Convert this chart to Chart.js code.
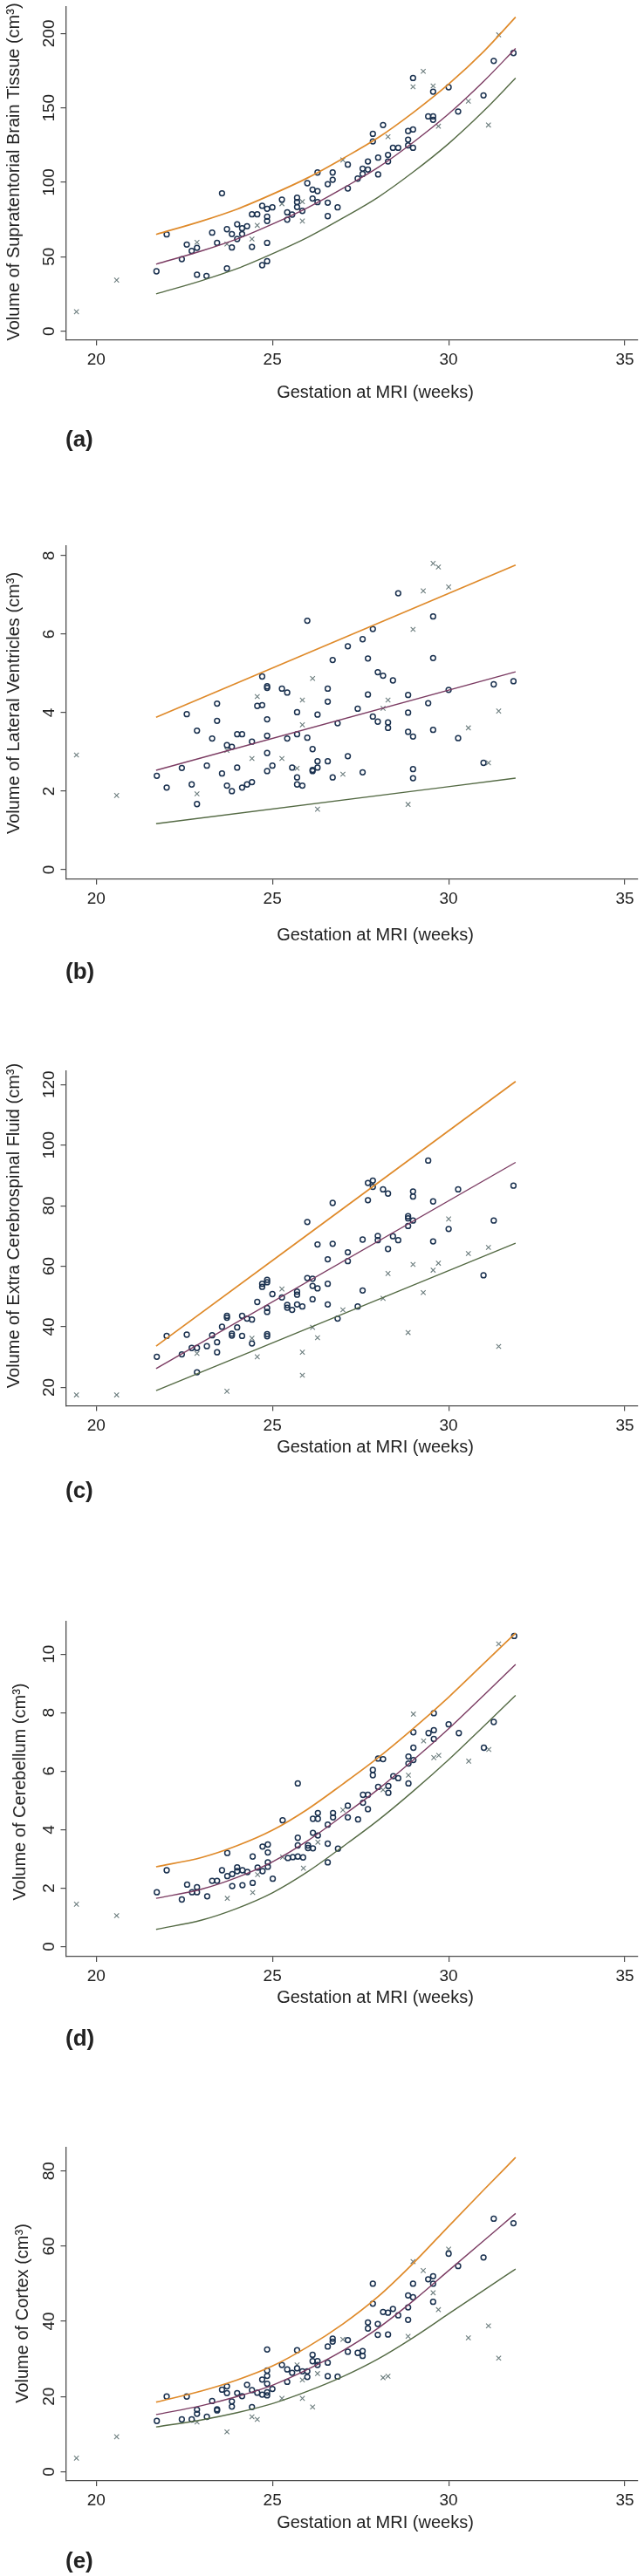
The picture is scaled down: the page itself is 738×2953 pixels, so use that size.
<!DOCTYPE html>
<html lang="en">
<head>
  <meta charset="UTF-8">
  <title>Fetal brain volumes by gestation</title>
  <script src="https://cdn.jsdelivr.net/npm/chart.js"></script>
  <style>
    body { margin: 0; background: #fff; }
    #wrap { position: relative; width: 738px; height: 2953px; }
    #wrap canvas { position: absolute; left: 0; }
  </style>
</head>
<body>
<div id="wrap"></div>

<script>
  // shared
  const xTicks = [20, 25, 30, 35];
  const xTitle = 'Gestation at MRI (weeks)';
  const curveX = [21.7, 23, 24, 25, 26, 27, 28, 29, 30, 31, 31.9];
  const lineX = [21.7, 31.9];

  // (a) supratentorial brain tissue
  const aTitle = 'Volume of Supratentorial Brain Tissue (cm³)';
  const aYTicks = [0, 50, 100, 150, 200];
  const aUpper = [65, 74, 82, 92, 103, 116, 130, 147, 166, 188, 211];
  const aMid = [45, 54, 62, 72, 83, 96, 110, 127, 146, 168, 190];
  const aLower = [25, 34, 42, 52, 63, 76, 90, 107, 126, 148, 170];
  const aCircles = [[21.71,40.2],[22.0,65.0],[22.43,48.4],[22.57,58.2],[22.71,53.9],[22.86,56.0],[22.86,37.9],[23.13,37.1],[23.29,66.2],[23.43,59.3],
    [23.57,92.6],[23.71,68.5],[23.71,42.1],[23.85,65.2],[23.85,56.2],[24.0,71.8],[24.0,61.9],[24.14,69.1],[24.14,65.2],[24.28,70.5],
    [24.42,78.5],[24.42,56.6],[24.57,78.5],[24.71,84.2],[24.71,44.3],[24.85,82.2],[24.85,76.9],[24.85,74.0],[24.85,59.3],[24.85,47.0],
    [25.0,83.2],[25.27,88.4],[25.42,79.8],[25.42,74.9],[25.56,78.3],[25.7,89.6],[25.7,86.7],[25.7,83.4],[25.85,80.8],[25.99,99.4],
    [26.14,95.1],[26.14,89.1],[26.28,106.6],[26.28,94.1],[26.28,86.7],[26.57,98.8],[26.57,86.3],[26.57,77.3],[26.71,106.6],[26.71,101.7],
    [26.85,83.2],[27.14,111.9],[27.14,95.9],[27.42,102.5],[27.56,105.6],[27.56,109.2],[27.71,114.0],[27.71,108.6],[27.85,132.6],[27.85,127.5],
    [28.0,116.6],[28.0,105.3],[28.14,138.5],[28.28,118.4],[28.28,114.0],[28.42,123.2],[28.57,123.2],[28.85,134.5],[28.85,128.7],[28.85,124.8],
    [28.99,135.5],[28.99,123.2],[28.99,170.1],[29.42,144.3],[29.56,144.3],[29.56,142.0],[29.56,160.9],[30.0,163.9],[30.27,147.6],[30.99,158.4],
    [31.28,181.6],[31.84,186.9]];
  const aCrosses = [[19.44,13],[20.58,34.3],[22.86,59.7],[23.71,58.5],[24.42,61.9],[24.57,71.1],[25.27,85.6],[25.85,74],[25.85,87],[27.0,115],
    [28.28,130.6],[28.99,164.2],[29.28,174.6],[29.56,164.8],[29.71,137.7],[30.56,154.5],[31.13,138.5],[31.42,199.1]];

  // (b) lateral ventricles
  const bTitle = 'Volume of Lateral Ventricles (cm³)';
  const bYTicks = [0, 2, 4, 6, 8];
  const bUpper = [3.88, 7.76];
  const bMid = [2.53, 5.04];
  const bLower = [1.17, 2.33];
  const bCircles = [[21.72,2.39],[22.0,2.09],[22.43,2.59],[22.57,3.96],[22.71,2.17],[22.86,3.54],[22.86,1.67],[23.14,2.65],[23.29,3.34],[23.43,4.23],
    [23.43,3.79],[23.57,2.45],[23.71,3.17],[23.71,2.14],[23.85,3.13],[23.85,2.0],[24.0,3.45],[24.0,2.6],[24.14,3.45],[24.14,2.09],
    [24.28,2.17],[24.42,3.26],[24.42,2.23],[24.57,4.17],[24.71,4.19],[24.71,4.92],[24.85,4.67],[24.85,4.63],[24.85,3.83],[24.85,3.41],
    [24.85,2.97],[24.85,2.51],[25.0,2.65],[25.27,4.61],[25.42,4.51],[25.42,3.34],[25.56,2.6],[25.7,4.01],[25.7,3.45],[25.7,2.35],
    [25.7,2.17],[25.85,2.14],[25.99,6.34],[25.99,3.36],[26.14,3.07],[26.14,2.54],[26.14,2.51],[26.28,3.95],[26.28,2.76],[26.28,2.6],
    [26.57,4.61],[26.57,4.28],[26.57,2.76],[26.71,5.34],[26.71,2.35],[26.85,3.73],[27.14,5.69],[27.14,2.89],[27.42,4.1],[27.56,5.87],
    [27.56,2.48],[27.71,5.38],[27.71,4.46],[27.85,6.13],[27.85,3.9],[27.99,5.03],[27.99,3.77],[28.14,4.94],[28.28,3.75],[28.28,3.61],
    [28.42,4.82],[28.57,7.04],[28.85,4.45],[28.85,4.0],[28.85,3.51],[28.99,3.39],[28.99,2.56],[28.99,2.33],[29.42,4.24],[29.56,6.45],
    [29.56,5.39],[29.56,3.56],[30.0,4.58],[30.27,3.35],[30.99,2.72],[31.28,4.72],[31.84,4.8]];
  const bCrosses = [[19.44,2.92],[20.58,1.89],[22.86,1.93],[23.71,3.04],[24.42,2.83],[24.57,4.41],[25.27,2.83],[25.7,2.58],[25.85,4.32],[25.85,3.69],
    [26.14,4.87],[26.28,1.54],[27.0,2.43],[28.14,4.11],[28.28,4.32],[28.85,1.66],[28.99,6.12],[29.28,7.1],[29.56,7.8],[29.71,7.71],
    [30.0,7.2],[30.56,3.61],[31.13,2.72],[31.42,4.04]];

  // (c) extra cerebrospinal fluid
  const cTitle = 'Volume of Extra Cerebrospinal Fluid (cm³)';
  const cYTicks = [20, 40, 60, 80, 100, 120];
  const cUpper = [33.6, 121.0];
  const cMid = [26.2, 94.3];
  const cLower = [18.9, 67.6];
  const cCircles = [[21.72,30.1],[22.0,37.0],[22.43,30.9],[22.57,37.4],[22.71,33.0],[22.86,33.0],[22.86,25.0],[23.14,33.6],[23.29,37.2],[23.43,34.9],
    [23.43,31.6],[23.57,40.0],[23.71,43.6],[23.71,43.0],[23.85,37.7],[23.85,37.1],[24.0,39.8],[24.14,43.6],[24.14,37.0],[24.28,42.7],
    [24.42,42.4],[24.42,34.5],[24.57,48.2],[24.71,53.2],[24.71,54.2],[24.85,55.5],[24.85,54.7],[24.85,46.2],[24.85,44.9],[24.85,37.6],
    [24.85,36.9],[25.0,50.8],[25.27,49.7],[25.42,47.2],[25.42,46.3],[25.56,45.6],[25.7,51.6],[25.7,50.6],[25.7,47.4],[25.85,46.7],
    [25.99,74.6],[25.99,56.1],[26.14,55.9],[26.14,53.5],[26.14,49.1],[26.28,67.2],[26.28,52.7],[26.57,62.3],[26.57,54.2],[26.57,47.4],
    [26.71,80.9],[26.71,67.4],[26.85,42.7],[27.14,64.6],[27.14,61.7],[27.42,46.7],[27.56,68.8],[27.56,52.0],[27.71,87.5],[27.71,81.8],
    [27.85,88.3],[27.85,86.2],[27.99,70.0],[27.99,68.6],[28.14,85.4],[28.28,84.0],[28.28,65.7],[28.42,69.9],[28.57,68.6],[28.85,76.5],
    [28.85,75.8],[28.85,73.3],[28.99,84.7],[28.99,83.0],[28.99,75.1],[29.42,94.9],[29.56,81.4],[29.56,68.2],[30.0,72.3],[30.27,85.4],
    [30.99,57.0],[31.28,75.1],[31.84,86.6]];
  const cCrosses = [[19.44,17.5],[20.58,17.5],[22.86,31.2],[23.71,18.7],[24.42,36.2],[24.57,30.1],[25.27,52.5],[25.85,31.6],[25.85,24.0],[26.14,39.8],
    [26.28,36.4],[27.0,45.6],[28.14,49.4],[28.28,57.6],[28.85,38.1],[28.99,60.6],[29.28,51.3],[29.56,58.7],[29.71,61.0],[30.0,75.6],
    [30.56,64.2],[31.13,66.2],[31.42,33.5]];

  // (d) cerebellum
  const dTitle = 'Volume of Cerebellum (cm³)';
  const dYTicks = [0, 2, 4, 6, 8, 10];
  const dUpper = [2.73, 3.05, 3.45, 3.98, 4.7, 5.56, 6.46, 7.46, 8.53, 9.68, 10.72];
  const dMid = [1.65, 1.97, 2.37, 2.9, 3.62, 4.48, 5.38, 6.38, 7.45, 8.6, 9.65];
  const dLower = [0.59, 0.91, 1.31, 1.84, 2.56, 3.42, 4.32, 5.32, 6.39, 7.54, 8.59];
  const dCircles = [[21.72,1.86],[22.0,2.61],[22.43,1.61],[22.58,2.12],[22.72,1.86],[22.86,1.86],[22.86,2.03],[23.15,1.72],[23.29,2.25],[23.43,2.25],
    [23.57,2.61],[23.72,3.2],[23.72,2.41],[23.86,2.07],[23.86,2.48],[24.0,2.71],[24.0,2.58],[24.15,2.1],[24.15,2.61],[24.29,2.55],
    [24.44,3.08],[24.44,2.18],[24.58,2.7],[24.72,3.42],[24.72,2.58],[24.87,3.49],[24.87,3.22],[24.87,2.88],[24.87,2.73],[25.01,2.32],
    [25.29,4.32],[25.44,3.03],[25.58,3.06],[25.72,3.72],[25.72,3.46],[25.72,3.08],[25.72,5.58],[25.87,3.05],[26.01,3.46],[26.01,3.37],
    [26.15,4.37],[26.15,3.89],[26.15,3.36],[26.29,4.57],[26.29,4.37],[26.29,3.8],[26.57,4.17],[26.57,3.52],[26.57,2.88],[26.72,4.57],
    [26.72,4.42],[26.86,3.35],[27.14,4.82],[27.14,4.42],[27.43,4.35],[27.57,5.19],[27.57,4.92],[27.71,5.19],[27.71,4.7],[27.85,6.04],
    [27.85,5.86],[28.0,6.43],[28.0,5.46],[28.14,6.41],[28.29,5.49],[28.29,5.26],[28.43,5.83],[28.57,5.76],[28.86,6.5],[28.86,6.26],
    [28.86,5.58],[29.0,7.33],[29.0,6.8],[29.0,6.38],[29.43,7.3],[29.58,7.98],[29.58,7.4],[29.58,7.1],[30.0,7.6],[30.29,7.3],
    [31.0,6.8],[31.28,7.68],[31.86,10.62]];
  const dCrosses = [[19.44,1.45],[20.58,1.06],[23.72,1.65],[24.44,1.85],[24.58,2.46],[25.29,3.06],[25.88,2.68],[26.29,3.57],[27.0,4.67],[28.14,5.36],
    [28.86,5.86],[29.0,7.95],[29.29,7.03],[29.58,6.46],[29.72,6.54],[30.57,6.34],[31.14,6.74],[31.42,10.35]];

  // (e) cortex
  const eTitle = 'Volume of Cortex (cm³)';
  const eYTicks = [0, 20, 40, 60, 80];
  const eUpper = [18.5, 21.5, 24.4, 28.1, 33.2, 39.3, 46.6, 55.5, 65.3, 75.0, 83.6];
  const eMid = [15.2, 17.6, 20.0, 23.0, 27.2, 32.2, 38.2, 45.5, 53.5, 61.5, 68.7];
  const eLower = [11.9, 13.8, 15.7, 18.1, 21.4, 25.3, 30.0, 35.7, 42.0, 48.3, 53.9];
  const eCircles = [[21.72,13.5],[22.0,20.0],[22.43,13.9],[22.57,20.0],[22.71,13.9],[22.86,15.4],[22.86,16.5],[23.14,14.6],[23.29,18.8],[23.43,16.6],
    [23.43,16.3],[23.57,21.8],[23.71,22.7],[23.71,20.9],[23.85,18.7],[23.85,17.3],[24.0,20.9],[24.14,20.1],[24.28,23.1],[24.42,21.7],
    [24.42,17.2],[24.57,21.0],[24.71,24.5],[24.71,20.5],[24.85,32.5],[24.85,26.9],[24.85,25.5],[24.85,23.4],[24.85,21.1],[24.85,20.3],
    [25.0,22.0],[25.27,28.4],[25.42,27.2],[25.42,23.9],[25.56,26.3],[25.7,32.3],[25.7,27.5],[25.85,26.7],[25.99,26.7],[25.99,25.2],
    [26.14,31.1],[26.14,29.4],[26.28,29.4],[26.28,28.4],[26.57,33.3],[26.57,29.0],[26.57,25.4],[26.71,35.4],[26.71,34.6],[26.85,25.3],
    [27.14,35.0],[27.14,31.9],[27.42,31.6],[27.56,32.1],[27.56,30.8],[27.71,39.7],[27.71,38.1],[27.85,50.0],[27.85,44.7],[27.99,39.3],
    [27.99,36.4],[28.14,42.5],[28.28,42.3],[28.28,36.5],[28.42,43.3],[28.57,41.6],[28.85,46.9],[28.85,43.7],[28.85,40.4],[28.99,50.0],
    [28.99,46.4],[29.42,51.2],[29.56,52.0],[29.56,50.0],[29.56,45.2],[30.0,58.0],[30.27,54.7],[30.99,57.0],[31.28,67.3],[31.84,66.1]];
  const eCrosses = [[19.44,3.6],[20.58,9.3],[22.86,13.2],[23.71,10.6],[24.42,14.6],[24.57,13.9],[25.27,19.5],[25.7,28.4],[25.85,19.5],[25.85,24.4],
    [26.14,17.2],[26.28,26.1],[27.0,35.2],[28.14,25.0],[28.28,25.4],[28.85,36.0],[28.99,55.9],[29.28,53.5],[29.56,47.6],[29.71,43.1],
    [30.0,59.2],[30.56,35.6],[31.13,38.8],[31.42,30.2]];

  // page layout (pixels), one entry per panel
  const panels = [
    { tag: '(a)', title: aTitle, yTicks: aYTicks, yMin: -6.1, yMax: 218.0, cx: curveX, up: aUpper, mid: aMid, lo: aLower, circ: aCircles, cross: aCrosses,
      top: 0, h: 535, axisTop: 7.7, axisY: 390, xtDy: 60, tagDy: 115, ytX: 16.5, ytY: 197 },
    { tag: '(b)', title: bTitle, yTicks: bYTicks, yMin: -0.247, yMax: 8.256, cx: lineX, up: bUpper, mid: bMid, lo: bLower, circ: bCircles, cross: bCrosses,
      top: 612, h: 528, axisTop: 625.4, axisY: 1008, xtDy: 64.7, tagDy: 107, ytX: 16.5, ytY: 806 },
    { tag: '(c)', title: cTitle, yTicks: cYTicks, yMin: 13.92, yMax: 124.4, cx: lineX, up: cUpper, mid: cMid, lo: cLower, circ: cCircles, cross: cCrosses,
      top: 1215, h: 525, axisTop: 1228, axisY: 1611.5, xtDy: 47.5, tagDy: 98.5, ytX: 16.5, ytY: 1405 },
    { tag: '(d)', title: dTitle, yTicks: dYTicks, yMin: -0.343, yMax: 11.11, cx: curveX, up: dUpper, mid: dMid, lo: dLower, circ: dCircles, cross: dCrosses,
      top: 1845, h: 520, axisTop: 1859, axisY: 2243, xtDy: 47.7, tagDy: 95, ytX: 23.6, ytY: 2054 },
    { tag: '(e)', title: eTitle, yTicks: eYTicks, yMin: -2.46, yMax: 86.2, cx: curveX, up: eUpper, mid: eMid, lo: eLower, circ: eCircles, cross: eCrosses,
      top: 2450, h: 503, axisTop: 2462, axisY: 2844, xtDy: 48.7, tagDy: 92.7, ytX: 26, ytY: 2652 }
  ];

  const FONT = '"Liberation Sans", Arial, Helvetica, sans-serif';
  const AXIS = '#4d4d4d';
  const XSCALE_H = 30;

  // all the text is drawn here, stata style (rotated y labels)
  const stataText = {
    id: 'stataText',
    afterDraw(chart) {
      const p = chart.options.plugins.stataText.panel;
      const ctx = chart.ctx, xs = chart.scales.x, ys = chart.scales.y, a = chart.chartArea;
      ctx.save();
      ctx.fillStyle = '#222';
      ctx.textAlign = 'center';
      ctx.textBaseline = 'middle';
      ctx.font = '19px ' + FONT;
      xTicks.forEach(v => ctx.fillText(String(v), xs.getPixelForValue(v), a.bottom + 23));
      p.yTicks.forEach(v => {
        ctx.save();
        ctx.translate(56, ys.getPixelForValue(v));
        ctx.rotate(-Math.PI / 2);
        ctx.fillText(String(v), 0, 1);
        ctx.restore();
      });
      ctx.font = '20px ' + FONT;
      ctx.fillText(xTitle, 430, a.bottom + p.xtDy);
      ctx.save();
      ctx.translate(p.ytX, p.ytY - p.top);
      ctx.rotate(-Math.PI / 2);
      ctx.fillText(p.title, 0, 0);
      ctx.restore();
      ctx.textAlign = 'left';
      ctx.font = 'bold 26px ' + FONT;
      ctx.fillText(p.tag, 75, a.bottom + p.tagDy);
      ctx.restore();
    }
  };

  function curve(xs, ys, color, w) {
    return {
      data: xs.map((x, i) => ({ x: x, y: ys[i] })),
      showLine: true, pointRadius: 0, borderColor: color, borderWidth: w,
      cubicInterpolationMode: 'monotone', tension: 0.4, fill: false
    };
  }

  const wrap = document.getElementById('wrap');
  panels.forEach(p => {
    const cv = document.createElement('canvas');
    cv.width = 738; cv.height = p.h;
    cv.style.top = p.top + 'px';
    cv.style.width = '738px'; cv.style.height = p.h + 'px';
    wrap.appendChild(cv);

    const padBottom = p.h - XSCALE_H - (p.axisY - p.top);

    new Chart(cv.getContext('2d'), {
      type: 'scatter',
      data: {
        datasets: [
          curve(p.cx, p.up, '#df8a2a', 1.7),
          curve(p.cx, p.mid, '#7b3b62', 1.4),
          curve(p.cx, p.lo, '#546a44', 1.4),
          {
            data: p.circ.map(d => ({ x: d[0], y: d[1] })),
            pointStyle: 'circle', pointRadius: 2.9, borderWidth: 1.5,
            borderColor: '#1b3250', backgroundColor: 'rgba(0,0,0,0)'
          },
          {
            data: p.cross.map(d => ({ x: d[0], y: d[1] })),
            pointStyle: 'crossRot', pointRadius: 3.8, borderWidth: 1.1,
            borderColor: '#6c7d7e'
          }
        ]
      },
      options: {
        responsive: false,
        animation: false,
        events: [],
        layout: { padding: { left: 0, right: 7, top: p.axisTop - p.top, bottom: padBottom } },
        plugins: { legend: { display: false }, tooltip: { enabled: false }, stataText: { panel: p } },
        scales: {
          x: {
            type: 'linear', min: 19.14, max: 35.37,
            afterBuildTicks: s => { s.ticks = xTicks.map(v => ({ value: v })); },
            afterFit: s => { s.height = XSCALE_H; },
            ticks: { display: false },
            grid: { drawOnChartArea: false, drawTicks: true, tickLength: 6, color: AXIS, lineWidth: 1.2 },
            border: { display: true, color: AXIS, width: 1.3 }
          },
          y: {
            type: 'linear', min: p.yMin, max: p.yMax,
            afterBuildTicks: s => { s.ticks = p.yTicks.map(v => ({ value: v })); },
            afterFit: s => { s.width = 75.5; },
            ticks: { display: false },
            grid: { drawOnChartArea: false, drawTicks: true, tickLength: 6, color: AXIS, lineWidth: 1.2 },
            border: { display: true, color: AXIS, width: 1.3 }
          }
        }
      },
      plugins: [stataText]
    });
  });
</script>
</body>
</html>
